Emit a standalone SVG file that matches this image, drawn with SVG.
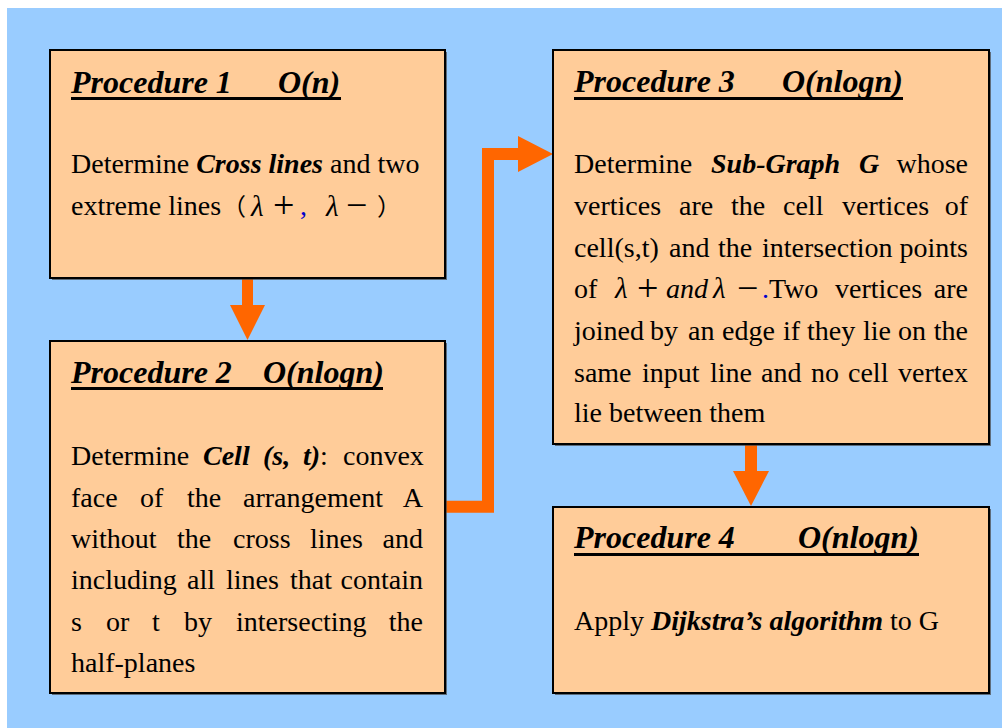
<svg xmlns="http://www.w3.org/2000/svg" width="1002" height="728" viewBox="0 0 1002 728">
<style>
.bg{fill:#99CCFF}
.box{fill:#FFCC99;stroke:#000;stroke-width:2}
.sh{fill:#444;opacity:0.7}
.t{font-family:"Liberation Serif","Times New Roman",serif;font-size:28px;fill:#000}
.title{font-family:"Liberation Serif","Times New Roman",serif;font-size:32px;font-weight:bold;font-style:italic;fill:#000}
.bi{font-weight:bold;font-style:italic}
.it{font-style:italic}
.lam{font-style:italic;font-size:29px}
.m{font-family:"Liberation Serif","Times New Roman",serif;font-size:38px}
.ul{fill:#000}
.cjk{font-family:"Noto Sans CJK SC",sans-serif;font-size:24px}
.blue{fill:#0000CC}
.conn{fill:none;stroke:#FF6600;stroke-width:12}
.head{fill:#FF6600}
</style>
<rect x="0" y="0" width="1002" height="728" fill="#fff"/>
<rect class="bg" x="7" y="8" width="995" height="720"/>

<g id="connectors">
  <rect class="head" x="242" y="278" width="11" height="28"/>
  <polygon class="head" points="230,305 265,305 247.5,340"/>
  <rect class="head" x="745" y="444" width="12" height="28"/>
  <polygon class="head" points="733,471 769,471 751,506"/>
  <path class="conn" d="M445,506.7 H488 V154 H520"/>
  <polygon class="head" points="518,136 518,172 553,154"/>
</g>

<g id="node1">
  <rect class="sh" x="52" y="52" width="395" height="228"/>
  <rect class="box" x="50" y="50" width="395" height="228"/>
  <text class="title" y="93"><tspan x="71">Procedure 1</tspan><tspan x="278">O(n)</tspan></text>
  <rect class="ul" x="71" y="97" width="270" height="3"/>
  <text class="t" y="173"><tspan x="71">Determine </tspan><tspan class="bi">Cross lines</tspan><tspan> and two</tspan></text>
  <text class="t" y="215"><tspan x="71">extreme lines</tspan><tspan class="cjk" x="222">（</tspan><tspan class="lam" x="251" y="216">λ</tspan><tspan class="m" x="273" y="218">+</tspan><tspan class="blue" x="300" y="215">,</tspan><tspan class="lam" x="326" y="216">λ</tspan><tspan class="m" x="346" y="218">−</tspan><tspan class="cjk" x="377" y="215">）</tspan></text>
</g>

<g id="node2">
  <rect class="sh" x="52" y="343" width="395" height="352"/>
  <rect class="box" x="50" y="341" width="395" height="352"/>
  <text class="title" y="383"><tspan x="71">Procedure 2</tspan><tspan x="263">O(nlogn)</tspan></text>
  <rect class="ul" x="71" y="387" width="312" height="3"/>
  <text class="t" y="465"><tspan x="71">Determine</tspan><tspan class="bi" x="203">Cell</tspan><tspan class="bi" x="263">(s,</tspan><tspan class="bi" x="303">t)</tspan><tspan>:</tspan><tspan x="343">convex</tspan></text>
  <text class="t" y="506.7"><tspan x="71">face</tspan><tspan x="140">of</tspan><tspan x="187">the</tspan><tspan x="243">arrangement</tspan><tspan x="423" text-anchor="end">A</tspan></text>
  <text class="t" y="548"><tspan x="71">without</tspan><tspan x="177">the</tspan><tspan x="233">cross</tspan><tspan x="310">lines</tspan><tspan x="423" text-anchor="end">and</tspan></text>
  <text class="t" y="589.3"><tspan x="71">including</tspan><tspan x="187">all</tspan><tspan x="226">lines</tspan><tspan x="290">that</tspan><tspan x="423" text-anchor="end">contain</tspan></text>
  <text class="t" y="630.7"><tspan x="71">s</tspan><tspan x="106">or</tspan><tspan x="152">t</tspan><tspan x="184">by</tspan><tspan x="236">intersecting</tspan><tspan x="423" text-anchor="end">the</tspan></text>
  <text class="t" y="672"><tspan x="71">half-planes</tspan></text>
</g>

<g id="node3">
  <rect class="sh" x="555" y="52" width="436" height="394"/>
  <rect class="box" x="553" y="50" width="436" height="394"/>
  <text class="title" y="92"><tspan x="574">Procedure 3</tspan><tspan x="782">O(nlogn)</tspan></text>
  <rect class="ul" x="574" y="97" width="329" height="3"/>
  <text class="t" y="173.3"><tspan x="574">Determine</tspan><tspan class="bi" x="711">Sub-Graph</tspan><tspan class="bi" x="859">G</tspan><tspan x="968" text-anchor="end">whose</tspan></text>
  <text class="t" y="215"><tspan x="574">vertices</tspan><tspan x="679">are</tspan><tspan x="731">the</tspan><tspan x="783">cell</tspan><tspan x="842">vertices</tspan><tspan x="968" text-anchor="end">of</tspan></text>
  <text class="t" y="256.7"><tspan x="574">cell(s,t)</tspan><tspan x="669">and</tspan><tspan x="718">the</tspan><tspan x="762">intersection</tspan><tspan x="968" text-anchor="end">points</tspan></text>
  <text class="t" y="298.3"><tspan x="574">of</tspan><tspan class="lam" x="615">λ</tspan><tspan class="m" x="637" y="301">+</tspan><tspan class="it" x="666" y="298.3">and</tspan><tspan class="lam" x="713">λ</tspan><tspan class="m" x="737" y="301">−</tspan><tspan class="blue" x="762" y="298.3">.</tspan><tspan x="769">Two</tspan><tspan x="835">vertices</tspan><tspan x="968" text-anchor="end">are</tspan></text>
  <text class="t" y="340"><tspan x="574">joined</tspan><tspan x="650">by</tspan><tspan x="688">an</tspan><tspan x="722">edge</tspan><tspan x="783">if</tspan><tspan x="807">they</tspan><tspan x="863">lie</tspan><tspan x="898">on</tspan><tspan x="968" text-anchor="end">the</tspan></text>
  <text class="t" y="381.7"><tspan x="574">same</tspan><tspan x="642">input</tspan><tspan x="710">line</tspan><tspan x="761">and</tspan><tspan x="811">no</tspan><tspan x="848">cell</tspan><tspan x="968" text-anchor="end">vertex</tspan></text>
  <text class="t" y="421.7"><tspan x="574">lie between them</tspan></text>
</g>

<g id="node4">
  <rect class="sh" x="555" y="509" width="436" height="186"/>
  <rect class="box" x="553" y="507" width="436" height="186"/>
  <text class="title" y="548.3"><tspan x="574">Procedure 4</tspan><tspan x="798">O(nlogn)</tspan></text>
  <rect class="ul" x="574" y="553" width="345" height="3"/>
  <text class="t" y="630"><tspan x="574">Apply </tspan><tspan class="bi">Dijkstra’s algorithm</tspan><tspan> to G</tspan></text>
</g>
</svg>
